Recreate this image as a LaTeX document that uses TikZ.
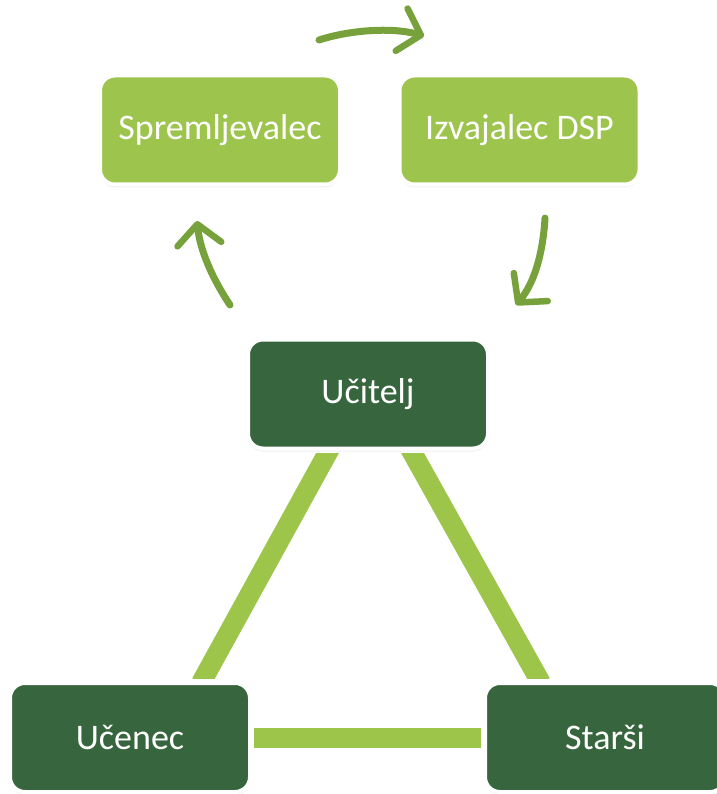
\documentclass[tikz,border=0pt]{standalone}
\usepackage{fontspec}
\setmainfont{Carlito}
\usetikzlibrary{arrows.meta,shadows,calc}

\definecolor{lightbox}{HTML}{9DC44C}
\definecolor{darkbox}{HTML}{37663E}
\definecolor{arrowgreen}{HTML}{77A13A}
\definecolor{linkgreen}{HTML}{9DC54A}

\pgfdeclarelayer{background}
\pgfsetlayers{background,main}

\tikzset{
  card/.style={rounded corners=15pt, draw=white, line width=4pt,
    minimum width=240pt, minimum height=109pt, inner sep=0pt, outer sep=0pt,
    text=white, font=\fontsize{36}{43}\selectfont,
    drop shadow={opacity=0.12, shadow xshift=0pt, shadow yshift=-3pt}},
  rolecard/.style={card, fill=lightbox},
  personcard/.style={card, fill=darkbox},
  link/.style={linkgreen, line width=20pt, line cap=butt},
  flow/.style={arrowgreen, line width=7pt, line cap=round,
    -{Straight Barb[length=20pt, width=44pt, line width=6.5pt, round]}}
}

\begin{document}
\begin{tikzpicture}[x=1pt, y=-1pt]
  \useasboundingbox (0,0) rectangle (716,794);

  % the two supporting roles
  \node[rolecard] (sprem) at (220,130) {Spremljevalec};
  \node[rolecard] (izv) at (519.5,130) {Izvajalec DSP};

  % the triangle of people
  \node[personcard] (ucitelj) at (368,394) {Učitelj};
  \node[personcard] (ucenec) at (130,737.5) {Učenec};
  \node[personcard] (starsi) at (605,737.5) {Starši};

  % links behind the cards, cut level with the card edges
  \begin{pgfonlayer}{background}
    \begin{scope}
      \clip ($(ucenec.west |- ucitelj.south)+(0,5)$) rectangle ($(starsi.east |- ucenec.north)+(0,-5)$);
      \draw[link] ($(ucitelj.south)+(-38,0)$) -- ($(ucenec.north)+(71,0)$);
      \draw[link] ($(ucitelj.south)+(42,0)$) -- ($(starsi.north)+(-64,0)$);
    \end{scope}
    \draw[link, shorten <=4pt, shorten >=4pt] (ucenec.east) -- (starsi.west);
  \end{pgfonlayer}

  % the cycle of arrows between the roles and the teacher
  \coordinate (a1s) at (319,40);
  \coordinate (a1e) at (424,36);
  \coordinate (a2s) at (545,218);
  \coordinate (a2e) at (516,305);
  \coordinate (a3s) at (230,305);
  \coordinate (a3e) at (197,221);

  \draw[flow] (a1s) .. controls (350,30) and (392,27) .. (a1e);
  \draw[flow] (a2s) .. controls (543,252) and (535,282) .. (a2e);
  \draw[flow] (a3s) .. controls (212,278) and (200,250) .. (a3e);
\end{tikzpicture}
\end{document}
